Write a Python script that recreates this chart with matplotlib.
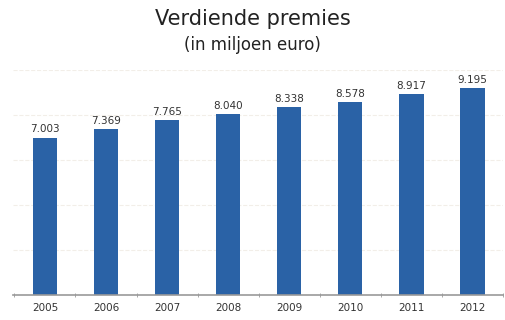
import numpy as np
import matplotlib.pyplot as plt

years = ['2005', '2006', '2007', '2008', '2009', '2010', '2011', '2012']
premies = [7.003, 7.369, 7.765, 8.040, 8.338, 8.578, 8.917, 9.195]

fig = plt.figure(figsize=(5.05, 3.2), dpi=100)
ax = fig.add_axes([0.026, 0.078, 0.97, 0.703])

x = np.arange(len(years))
ax.bar(x, premies, width=0.4, color='#2a62a6', zorder=2)

for xi, v in zip(x, premies):
    # dutch notation: dot as thousands separator
    lbl = '{:.3f}'.format(v)
    ax.text(xi, v + 0.15, lbl, ha='center', va='bottom', fontsize=7.5, color='#333333')

ax.set_xlim(-0.52, 7.47)
ax.set_ylim(0, 10)
ax.set_yticks([2, 4, 6, 8, 10])
ax.yaxis.grid(True, color='#f2eee8', linestyle='--', linewidth=0.8, zorder=0)
ax.tick_params(axis='y', left=False, labelleft=False)

ax.set_xticks(x)
ax.set_xticklabels(years, fontsize=7.5, color='#333333')
ax.tick_params(axis='x', length=0, pad=6)
ax.set_xticks(np.arange(-0.5, 8, 1), minor=True)
ax.tick_params(axis='x', which='minor', length=3, color='#999999', direction='inout')

for s in ['top', 'right', 'left']:
    ax.spines[s].set_visible(False)
ax.spines['bottom'].set_color('#999999')
ax.spines['bottom'].set_linewidth(1.2)

fig.text(0.5, 0.94, 'Verdiende premies', ha='center', va='center', fontsize=15, color='#222222')
fig.text(0.5, 0.858, '(in miljoen euro)', ha='center', va='center', fontsize=12, color='#222222')

fig.savefig('out.png', dpi=100)
